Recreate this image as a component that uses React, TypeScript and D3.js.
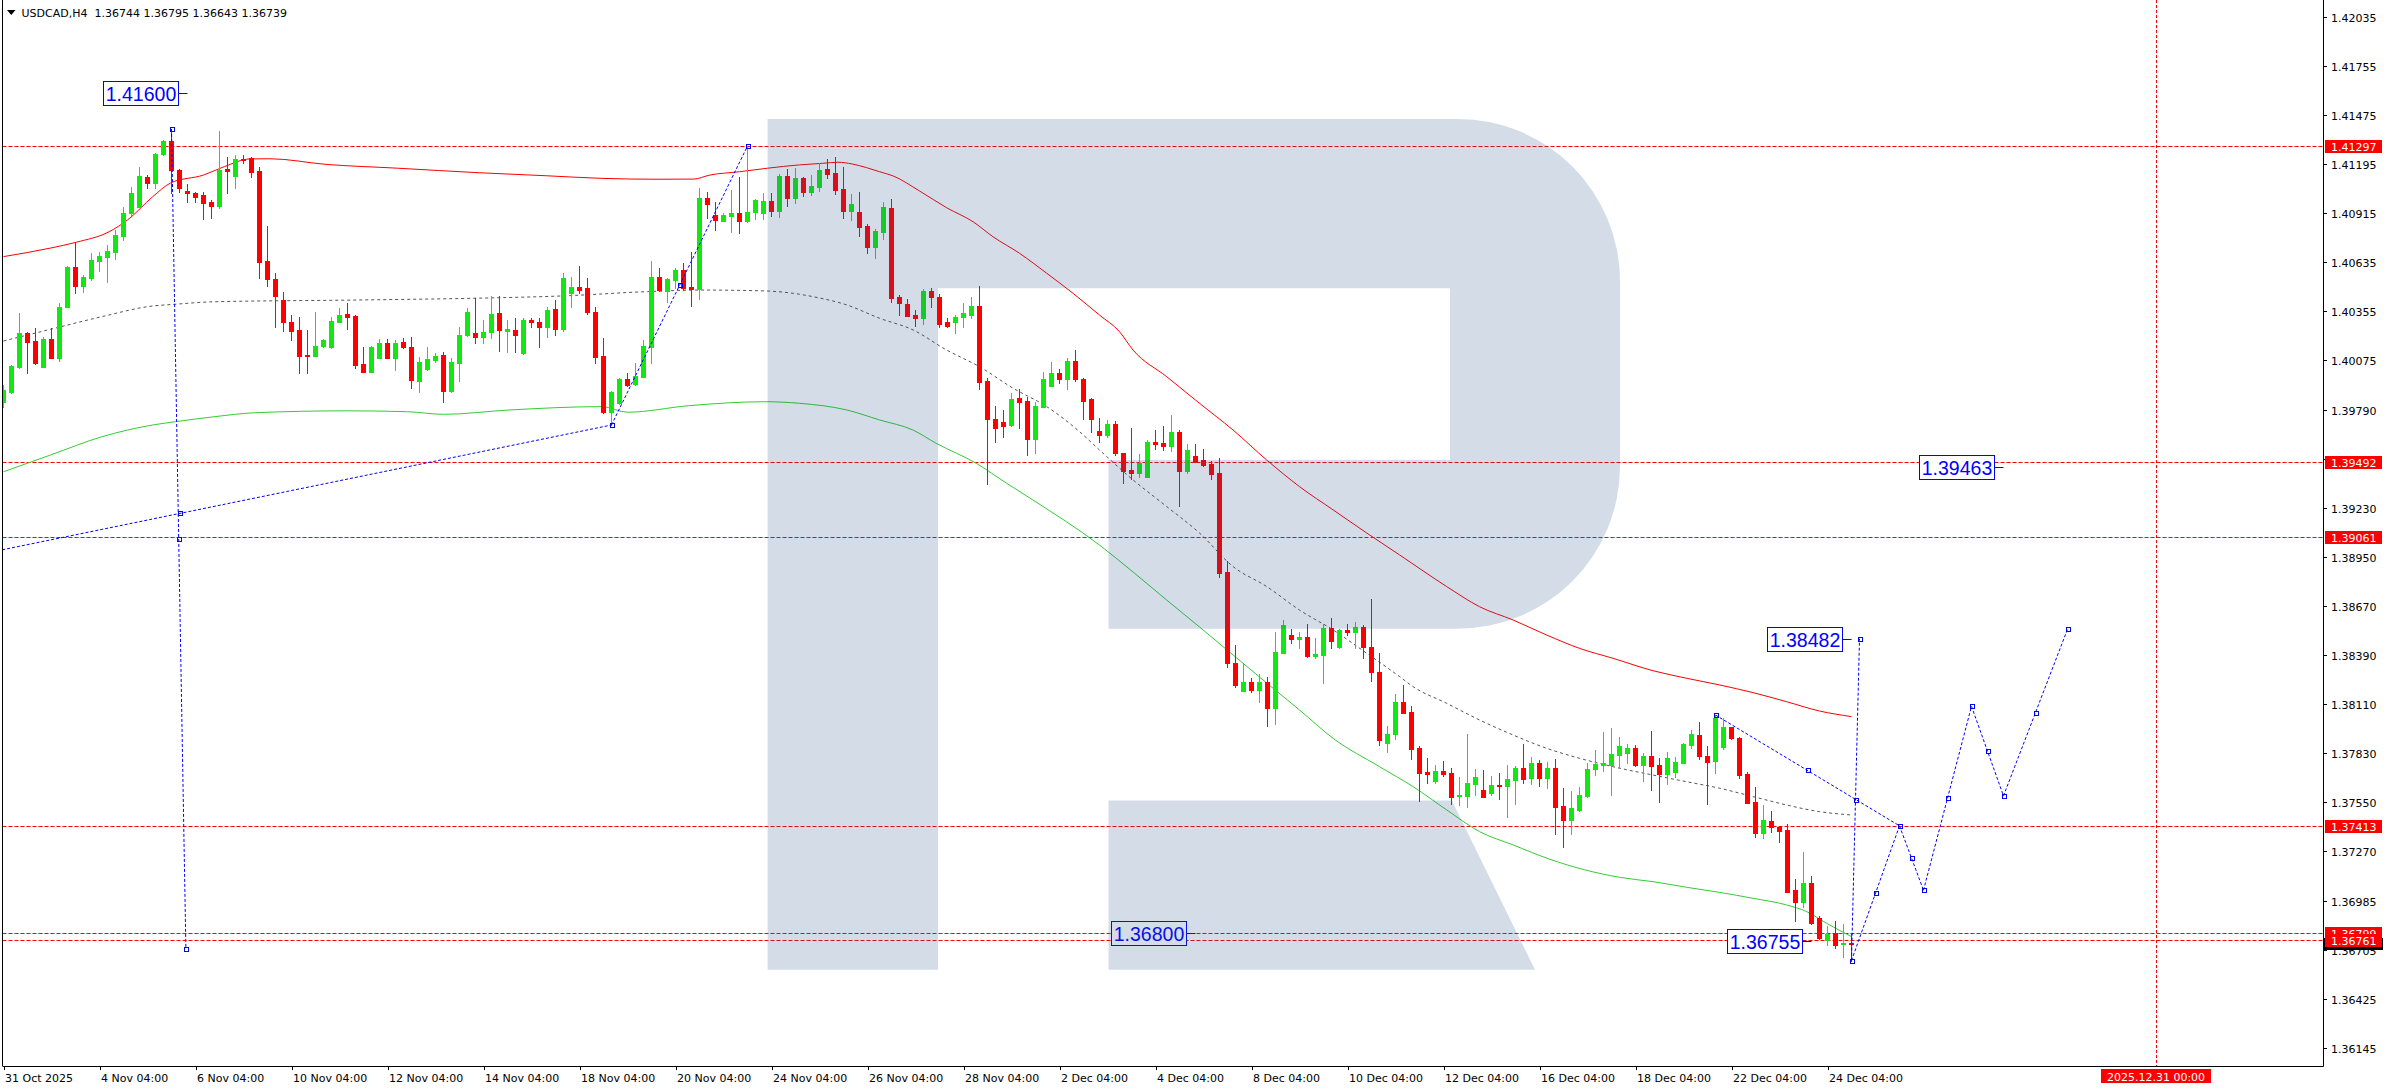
import React, { useEffect } from 'react';
import * as d3 from 'd3';

const HEADER_SYMBOL = 'USDCAD,H4';
const HEADER_OHLC = ['1.36744', '1.36795', '1.36643', '1.36739'];

const opens = [
  1.39836,1.39893,1.40036,1.40227,1.40183,1.40036,1.40193,1.40088,1.40379,1.40604,
  1.40499,1.40545,1.40640,1.40665,1.40693,1.40784,1.40912,1.40950,1.41122,1.41087,
  1.41250,1.41326,1.41160,1.41040,1.41030,1.41017,1.40979,1.40954,1.41164,1.41126,
  1.41224,1.41227,1.41154,1.40640,1.40537,1.40417,1.40290,1.40246,1.40103,1.40099,
  1.40154,1.40150,1.40293,1.40337,1.40326,1.40052,1.40008,1.40088,1.40170,1.40088,
  1.40175,1.40147,1.39956,1.40021,1.40074,1.40101,1.39897,1.40059,1.40215,1.40227,
  1.40207,1.40233,1.40341,1.40242,1.40246,1.40113,1.40303,1.40290,1.40265,1.40364,
  1.40250,1.40455,1.40490,1.40484,1.40347,1.40097,1.39776,1.39827,1.39966,1.39936,
  1.39979,1.40150,1.40547,1.40470,1.40531,1.40589,1.40490,1.40480,1.41002,1.40903,
  1.40870,1.40899,1.40912,1.40868,1.40918,1.40914,1.40983,1.40927,1.41126,1.41002,
  1.41112,1.41036,1.41064,1.41164,1.41144,1.41051,1.40927,1.40920,1.40840,1.40722,
  1.40807,1.40943,1.40434,1.40394,1.40330,1.40316,1.40469,1.40434,1.40291,1.40293,
  1.40322,1.40331,1.40383,1.39954,1.39737,1.39720,1.39701,1.39857,1.39840,1.39621,
  1.39808,1.39928,1.39998,1.39964,1.40069,1.39966,1.39852,1.39669,1.39644,1.39709,
  1.39541,1.39446,1.39431,1.39408,1.39606,1.39598,1.39583,1.39663,1.39442,1.39526,
  1.39503,1.39482,1.39429,1.38863,1.38345,1.38185,1.38235,1.38189,1.38235,1.38088,
  1.38402,1.38503,1.38479,1.38490,1.38385,1.38389,1.38542,1.38436,1.38532,1.38522,
  1.38551,1.38436,1.38294,1.37888,1.37938,1.38121,1.38063,1.37858,1.37721,1.37671,
  1.37726,1.37715,1.37582,1.37582,1.37654,1.37618,1.37599,1.37646,1.37642,1.37677,
  1.37743,1.37688,1.37772,1.37688,1.37743,1.37526,1.37446,1.37504,1.37584,1.37738,
  1.37761,1.37761,1.37818,1.37831,1.37858,1.37761,1.37812,1.37761,1.37709,1.37722,
  1.37774,1.37875,1.37932,1.37812,1.37783,1.37862,1.37976,1.37917,1.37709,1.37548,
  1.37374,1.37441,1.37408,1.37389,1.37046,1.36980,1.37085,1.36888,1.36761,1.36799,
  1.36736,1.36744,
];
const highs = [
  1.39932,1.40046,1.40341,1.40234,1.40255,1.40207,1.40259,1.40398,1.40611,1.40745,
  1.40560,1.40687,1.40693,1.40731,1.40817,1.40950,1.41064,1.41179,1.41131,1.41257,
  1.41331,1.41394,1.41166,1.41080,1.41034,1.41036,1.40988,1.41383,1.41236,1.41246,
  1.41246,1.41234,1.41179,1.40840,1.40570,1.40465,1.40331,1.40322,1.40246,1.40347,
  1.40193,1.40322,1.40370,1.40398,1.40331,1.40150,1.40154,1.40194,1.40194,1.40189,
  1.40202,1.40204,1.40093,1.40147,1.40113,1.40120,1.40084,1.40265,1.40370,1.40430,
  1.40303,1.40440,1.40440,1.40303,1.40313,1.40313,1.40313,1.40313,1.40379,1.40417,
  1.40570,1.40550,1.40611,1.40541,1.40379,1.40202,1.39897,1.39970,1.39998,1.40059,
  1.40189,1.40640,1.40598,1.40541,1.40598,1.40627,1.40693,1.41055,1.41032,1.40975,
  1.40916,1.41046,1.41118,1.41297,1.40992,1.41027,1.41027,1.41135,1.41164,1.41170,
  1.41117,1.41131,1.41198,1.41221,1.41232,1.41175,1.41023,1.41036,1.40851,1.40823,
  1.40977,1.40992,1.40446,1.40421,1.40360,1.40478,1.40484,1.40451,1.40314,1.40331,
  1.40402,1.40433,1.40497,1.39970,1.39812,1.39789,1.39884,1.39907,1.39861,1.39836,
  1.40004,1.40061,1.40023,1.40086,1.40131,1.39973,1.39859,1.39741,1.39732,1.39726,
  1.39545,1.39688,1.39537,1.39617,1.39674,1.39697,1.39760,1.39674,1.39594,1.39594,
  1.39566,1.39499,1.39516,1.38926,1.38446,1.38342,1.38256,1.38280,1.38263,1.38522,
  1.38589,1.38538,1.38522,1.38566,1.38484,1.38566,1.38602,1.38538,1.38566,1.38579,
  1.38562,1.38709,1.38402,1.37983,1.38166,1.38218,1.38098,1.37869,1.37801,1.37761,
  1.37783,1.37742,1.37692,1.37939,1.37738,1.37732,1.37698,1.37713,1.37761,1.37757,
  1.37881,1.37808,1.37789,1.37778,1.37795,1.37628,1.37612,1.37633,1.37770,1.37846,
  1.37949,1.37972,1.37919,1.37882,1.37875,1.37827,1.37957,1.37799,1.37837,1.37808,
  1.37885,1.37961,1.38008,1.37869,1.38046,1.38027,1.37979,1.37922,1.37722,1.37637,
  1.37532,1.37498,1.37412,1.37422,1.37108,1.37265,1.37126,1.36900,1.36841,1.36871,
  1.36852,1.36795,
];
const lows = [
  1.39808,1.39888,1.40027,1.39998,1.40052,1.40033,1.40083,1.40070,1.40375,1.40455,
  1.40461,1.40531,1.40585,1.40522,1.40651,1.40760,1.40903,1.40948,1.41055,1.41055,
  1.41246,1.41030,1.41036,1.40979,1.40979,1.40880,1.40884,1.40941,1.41030,1.41059,
  1.41198,1.41122,1.40541,1.40499,1.40265,1.40242,1.40189,1.39998,1.39998,1.40097,
  1.40147,1.40141,1.40291,1.40250,1.40027,1.40004,1.40004,1.40084,1.40084,1.40017,
  1.40143,1.39913,1.39890,1.40017,1.40065,1.39836,1.39893,1.39956,1.40213,1.40173,
  1.40170,1.40198,1.40128,1.40122,1.40122,1.40109,1.40265,1.40147,1.40204,1.40217,
  1.40242,1.40379,1.40455,1.40337,1.40056,1.39770,1.39703,1.39823,1.39928,1.39932,
  1.39976,1.40056,1.40470,1.40404,1.40484,1.40474,1.40385,1.40421,1.40884,1.40817,
  1.40868,1.40807,1.40802,1.40864,1.40878,1.40878,1.40897,1.40893,1.40954,1.40970,
  1.41011,1.41017,1.41042,1.41116,1.41023,1.40887,1.40874,1.40783,1.40687,1.40659,
  1.40766,1.40406,1.40331,1.40326,1.40269,1.40282,1.40379,1.40265,1.40265,1.40230,
  1.40265,1.40316,1.39907,1.39366,1.39608,1.39633,1.39699,1.39688,1.39530,1.39545,
  1.39804,1.39926,1.39945,1.39909,1.39956,1.39739,1.39665,1.39608,1.39636,1.39532,
  1.39373,1.39396,1.39404,1.39404,1.39568,1.39560,1.39556,1.39242,1.39431,1.39492,
  1.39471,1.39393,1.38836,1.38322,1.38208,1.38183,1.38179,1.38122,1.37985,1.37993,
  1.38399,1.38456,1.38427,1.38376,1.38370,1.38227,1.38427,1.38427,1.38503,1.38427,
  1.38370,1.38242,1.37875,1.37837,1.37909,1.38057,1.37795,1.37557,1.37659,1.37659,
  1.37698,1.37538,1.37532,1.37522,1.37589,1.37587,1.37587,1.37566,1.37465,1.37538,
  1.37659,1.37652,1.37641,1.37628,1.37366,1.37294,1.37366,1.37500,1.37580,1.37703,
  1.37728,1.37588,1.37742,1.37774,1.37757,1.37671,1.37618,1.37551,1.37652,1.37690,
  1.37770,1.37856,1.37795,1.37538,1.37717,1.37850,1.37909,1.37688,1.37542,1.37351,
  1.37345,1.37380,1.37322,1.37033,1.36871,1.36948,1.36852,1.36765,1.36732,1.36717,
  1.36662,1.36643,
];
const closes = [
  1.39903,1.40040,1.40227,1.40179,1.40056,1.40193,1.40088,1.40379,1.40604,1.40499,
  1.40550,1.40646,1.40669,1.40695,1.40788,1.40912,1.41027,1.41126,1.41087,1.41250,
  1.41326,1.41160,1.41059,1.41027,1.41007,1.40973,1.40954,1.41160,1.41152,1.41223,
  1.41217,1.41150,1.40636,1.40535,1.40442,1.40290,1.40242,1.40099,1.40099,1.40154,
  1.40189,1.40299,1.40331,1.40322,1.40046,1.40008,1.40150,1.40170,1.40088,1.40170,
  1.40147,1.39960,1.40065,1.40080,1.40099,1.39899,1.40065,1.40217,1.40347,1.40207,
  1.40233,1.40337,1.40246,1.40250,1.40217,1.40303,1.40290,1.40265,1.40360,1.40250,
  1.40541,1.40490,1.40474,1.40347,1.40093,1.39776,1.39890,1.39966,1.39932,1.39985,
  1.40156,1.40547,1.40474,1.40537,1.40589,1.40484,1.40480,1.41002,1.40964,1.40874,
  1.40903,1.40912,1.40870,1.40918,1.40988,1.40983,1.40927,1.41127,1.41002,1.41112,
  1.41036,1.41068,1.41160,1.41137,1.41046,1.40927,1.40966,1.40836,1.40722,1.40811,
  1.40947,1.40430,1.40402,1.40327,1.40316,1.40467,1.40433,1.40282,1.40270,1.40322,
  1.40345,1.40383,1.39950,1.39736,1.39684,1.39699,1.39850,1.39834,1.39621,1.39812,
  1.39966,1.39998,1.39964,1.40069,1.39964,1.39842,1.39739,1.39644,1.39709,1.39541,
  1.39442,1.39431,1.39484,1.39606,1.39594,1.39583,1.39663,1.39442,1.39560,1.39493,
  1.39475,1.39425,1.38859,1.38342,1.38218,1.38235,1.38189,1.38235,1.38088,1.38406,
  1.38560,1.38479,1.38490,1.38385,1.38395,1.38542,1.38471,1.38532,1.38522,1.38547,
  1.38436,1.38294,1.37903,1.37938,1.38118,1.38059,1.37852,1.37717,1.37711,1.37726,
  1.37711,1.37575,1.37588,1.37658,1.37692,1.37575,1.37646,1.37641,1.37681,1.37743,
  1.37681,1.37772,1.37688,1.37743,1.37522,1.37446,1.37515,1.37589,1.37738,1.37766,
  1.37770,1.37823,1.37869,1.37858,1.37762,1.37812,1.37757,1.37709,1.37802,1.37779,
  1.37881,1.37938,1.37812,1.37779,1.38031,1.37976,1.37913,1.37703,1.37545,1.37374,
  1.37446,1.37405,1.37385,1.37037,1.36980,1.37085,1.36856,1.36771,1.36795,1.36732,
  1.36742,1.36739,
];

// moving averages: [bar index, price]
const redMA = [
  [0,1.40665],[5.9,1.40714],[9.1,1.40747],[13.2,1.40807],[15.5,1.40874],[18.65,1.41007],[20.9,1.41086],
  [25,1.41131],[27.6,1.41179],[30.8,1.41223],[33.3,1.41224],[40.3,1.41192],[49.3,1.41170],[59.5,1.41144],
  [67.8,1.41127],[74.8,1.41112],[81.8,1.41107],[86.3,1.41108],[88.2,1.41130],[92,1.41150],[95.5,1.41170],
  [99.5,1.41189],[102.4,1.41198],[104.3,1.41204],[106.1,1.41194],[107.9,1.41173],[109.5,1.41150],
  [111.2,1.41126],[114.5,1.41040],[117.9,1.40944],[121.2,1.40864],[123.7,1.40778],[127,1.40684],
  [130.4,1.40570],[133.7,1.40455],[137,1.40331],[139.5,1.40236],[141.2,1.40131],[145.4,1.39979],
  [149.5,1.39827],[153.7,1.39674],[157.9,1.39503],[162,1.39351],[166.2,1.39218],[170.4,1.39086],
  [174.5,1.38961],[180.4,1.38780],[184.5,1.38665],[188.7,1.38589],[192.9,1.38503],[197,1.38427],
  [201.2,1.38370],[206.2,1.38299],[210.4,1.38256],[214.5,1.38218],[218.7,1.38174],[222.9,1.38122],
  [227,1.38069],[231,1.38037],
];
const grayMA = [
  [0,1.40183],[5.9,1.40250],[12.3,1.40322],[18.65,1.40383],[21.2,1.40392],[26.3,1.40407],[44.2,1.40417],
  [60.8,1.40429],[69.7,1.40440],[80.5,1.40465],[86.9,1.40474],[95.1,1.40469],[99.5,1.40450],[101.2,1.40436],
  [105.4,1.40389],[109.5,1.40313],[113.7,1.40246],[117.9,1.40131],[122,1.40036],[126.2,1.39913],
  [130.4,1.39808],[134.5,1.39665],[137,1.39560],[141.2,1.39389],[145.4,1.39237],[149.5,1.39086],
  [153.7,1.38894],[157.9,1.38780],[162,1.38646],[166.2,1.38532],[170.4,1.38399],[174.5,1.38266],
  [176.2,1.38208],[180.4,1.38113],[184.5,1.38018],[188.7,1.37932],[192.9,1.37856],[197,1.37799],
  [201.2,1.37751],[206.2,1.37703],[210.4,1.37665],[214.5,1.37628],[218.7,1.37580],[222.9,1.37532],
  [227,1.37494],[231,1.37475],
];
const greenMA = [
  [0,1.39436],[5.9,1.39532],[12.3,1.39636],[18.65,1.39703],[21.5,1.39722],[26.3,1.39750],[31.4,1.39773],
  [42.9,1.39784],[50.5,1.39779],[55,1.39764],[63.3,1.39789],[74.8,1.39808],[78,1.39776],[85.6,1.39813],
  [95.1,1.39836],[99.5,1.39827],[105.4,1.39789],[109.5,1.39732],[113.7,1.39674],[116.6,1.39598],
  [121.6,1.39484],[125.4,1.39370],[128.7,1.39274],[137,1.39017],[141.2,1.38863],[145.4,1.38703],
  [149.5,1.38549],[153.7,1.38389],[157.9,1.38229],[162,1.38075],[166.2,1.37913],[172,1.37751],
  [176.2,1.37637],[180.4,1.37504],[184.5,1.37380],[188.7,1.37304],[193.3,1.37222],[202,1.37119],
  [206.2,1.37094],[210.4,1.37062],[214.5,1.37033],[218.7,1.36999],[222.9,1.36961],[225.4,1.36923],
  [227.9,1.36856],[231,1.36780],
];

// analysis trend lines (each pair = one line object): [bar, price]
const trendLines = [
  [[-32, 1.38692], [76, 1.39703]],
  [[76, 1.39703], [93, 1.41297]],
  [[21, 1.41394], [22.8, 1.36709]],
  [[214, 1.38046], [237, 1.37413]],
  [[231, 1.36643], [232, 1.38482]],
];
const forecastPath = [[231, 1.36643], [237, 1.37413], [240, 1.37045], [246, 1.38096], [250, 1.37584], [258, 1.38536]];

const priceNotes = [
  { text: '1.41600', bar: 23, price: 1.41600 },
  { text: '1.39463', bar: 250, price: 1.39463 },
  { text: '1.38482', bar: 231, price: 1.38482 },
  { text: '1.36755', bar: 226, price: 1.36755 },
  { text: '1.36800', bar: 149, price: 1.36800 },
];

const levels = [1.41297, 1.39492, 1.39061, 1.37413, 1.36799, 1.36761];
const bidPrice = 1.36739;

const priceTicks = [1.42035, 1.41755, 1.41475, 1.41195, 1.40915, 1.40635, 1.40355, 1.40075, 1.39790, 1.39510,
  1.39230, 1.38950, 1.38670, 1.38390, 1.38110, 1.37830, 1.37550, 1.37270, 1.36985, 1.36705, 1.36425, 1.36145];

const timeLabels = ['31 Oct 2025', '4 Nov 04:00', '6 Nov 04:00', '10 Nov 04:00', '12 Nov 04:00', '14 Nov 04:00',
  '18 Nov 04:00', '20 Nov 04:00', '24 Nov 04:00', '26 Nov 04:00', '28 Nov 04:00', '2 Dec 04:00', '4 Dec 04:00',
  '8 Dec 04:00', '10 Dec 04:00', '12 Dec 04:00', '16 Dec 04:00', '18 Dec 04:00', '22 Dec 04:00', '24 Dec 04:00'];
const timeLabelBars = [0, 12, 24, 36, 48, 60, 72, 84, 96, 108, 120, 132, 144, 156, 168, 180, 192, 204, 216, 228];

const futureBar = 269;
const futureLabel = '2025.12.31 00:00';

const W = 2388, H = 1090;
const PLOT_L = 2.5, PLOT_R = 2323, PLOT_B = 1066;
const RED = '#ff0000';
const GREEN = '#13e613';
const BLUE = '#0000ff';
const AXIS_FONT = "'DejaVu Sans', Verdana, sans-serif";
const NOTE_FONT = "'Liberation Sans', Arial, sans-serif";

export default function App() {
  useEffect(() => {
    document.body.style.margin = '0';
  }, []);

  const x = d3.scaleLinear().domain([0, 1]).range([3.5, 11.5]);
  const y = d3.scaleLinear().domain([1.36145, 1.42035]).range([1047.8, 16.8]);

  const straight = d3.line<number[]>().x(d => x(d[0])).y(d => y(d[1]));
  const smooth = d3.line<number[]>().x(d => x(d[0])).y(d => y(d[1])).curve(d3.curveMonotoneX);

  const forecastSegments: number[][][] = [];
  for (let k = 0; k < forecastPath.length - 1; k++) forecastSegments.push([forecastPath[k], forecastPath[k + 1]]);
  const allLines = [...trendLines, ...forecastSegments];

  const markers: { mx: number; my: number }[] = [];
  allLines.forEach(seg => {
    const [a, b] = seg;
    const ax = x(a[0]), ay = y(a[1]), bx = x(b[0]), by = y(b[1]);
    markers.push({ mx: ax, my: ay }, { mx: bx, my: by }, { mx: (ax + bx) / 2, my: (ay + by) / 2 });
  });

  const candles = opens.map((o, i) => {
    const c = closes[i];
    const up = c >= o;
    const col = up ? GREEN : RED;
    const cx = Math.floor(x(i));
    const yT = Math.round(y(Math.max(o, c)));
    const yB = Math.round(y(Math.min(o, c)));
    const yH = Math.round(y(highs[i]));
    const yL = Math.round(y(lows[i]));
    return (
      <g key={i}>
        <rect x={cx} y={yH} width={1} height={Math.max(1, yL - yH + 1)} fill={col} />
        <rect x={cx - 2} y={yT} width={5} height={Math.max(1, yB - yT + 1)} fill={col} />
      </g>
    );
  });

  const logoMain = 'M767.6,119 H1457.6 A162.4,162.4 0 0 1 1620,281.4 V466.3 A162.4,162.4 0 0 1 1457.6,628.7 H1108.5 V460 H1450 V288.3 H938 V969.7 H767.6 Z';
  const logoLeg = 'M1108.5,800.4 H1451.8 L1535,969.7 H1108.5 Z';

  const fx = x(futureBar);

  return (
    <svg width={W} height={H} viewBox={`0 0 ${W} ${H}`} style={{ position: 'absolute', left: 0, top: 0, background: '#fff', display: 'block' }}>
      <defs>
        <clipPath id="plot">
          <rect x={PLOT_L + 0.5} y={0} width={PLOT_R - PLOT_L - 0.5} height={PLOT_B} />
        </clipPath>
      </defs>
      <rect x={0} y={0} width={W} height={H} fill="#fff" />

      <g clipPath="url(#plot)">
        {/* level lines */}
        {levels.map((p, k) => (
          <line key={k} x1={PLOT_L} x2={PLOT_R} y1={Math.round(y(p)) + 0.5} y2={Math.round(y(p)) + 0.5}
            stroke={RED} strokeWidth={1} strokeDasharray="4,2" />
        ))}
        {/* future vertical line */}
        <line x1={Math.round(fx) + 0.5} x2={Math.round(fx) + 0.5} y1={0} y2={PLOT_B} stroke={RED} strokeDasharray="3,2" />

        {/* moving averages */}
        <path d={smooth(greenMA) || ''} fill="none" stroke="#32cd32" strokeWidth={1} />
        <path d={smooth(grayMA) || ''} fill="none" stroke="#555" strokeWidth={1} strokeDasharray="3,3" />
        <path d={smooth(redMA) || ''} fill="none" stroke={RED} strokeWidth={1} />

        {/* candles */}
        <g shapeRendering="crispEdges">{candles}</g>

        {/* trend lines */}
        {allLines.map((seg, k) => (
          <path key={k} d={straight(seg) || ''} fill="none" stroke={BLUE} strokeWidth={1} strokeDasharray="3,2" />
        ))}
        {markers.map((m, k) => (
          <rect key={k} x={Math.round(m.mx) - 2 + 0.5} y={Math.round(m.my) - 2 + 0.5} width={4} height={4}
            fill="none" stroke={BLUE} strokeWidth={1} />
        ))}

        {/* price notes */}
        {priceNotes.map((n, k) => {
          const ax = x(n.bar);
          const yc = Math.round(y(n.price)) + 0.5;
          const bw = 75, bh = 24;
          const bx = Math.round(ax - 10 - bw) + 0.5;
          return (
            <g key={k}>
              <line x1={bx + bw} x2={ax} y1={yc} y2={yc} stroke={BLUE} strokeWidth={1} />
              <rect x={bx} y={yc - 12} width={bw} height={bh} fill="#fff" stroke={BLUE} strokeWidth={1} />
              <text x={bx + bw / 2} y={yc + 7} textAnchor="middle" fontFamily={NOTE_FONT} fontSize={19.5} fill={BLUE}>{n.text}</text>
            </g>
          );
        })}

        {/* watermark logo */}
        <path d={logoMain} fill="rgba(40,80,140,0.2)" />
        <path d={logoLeg} fill="rgba(40,80,140,0.2)" />
      </g>

      {/* frame / axes */}
      <line x1={PLOT_L} x2={PLOT_L} y1={0} y2={PLOT_B} stroke="#000" strokeWidth={1} />
      <line x1={PLOT_R + 0.5} x2={PLOT_R + 0.5} y1={0} y2={PLOT_B + 0.5} stroke="#000" strokeWidth={1} />
      <line x1={PLOT_L} x2={PLOT_R + 0.5} y1={PLOT_B + 0.5} y2={PLOT_B + 0.5} stroke="#000" strokeWidth={1} />

      {/* price axis */}
      <g fontFamily={AXIS_FONT} fontSize={11} fill="#000">
        {priceTicks.map((p, k) => {
          const yy = Math.round(y(p)) + 0.5;
          return (
            <g key={k}>
              <line x1={PLOT_R + 1} x2={PLOT_R + 4} y1={yy} y2={yy} stroke="#000" />
              <text x={2331} y={yy + 4}>{p.toFixed(5)}</text>
            </g>
          );
        })}
      </g>
      {/* bid label */}
      <rect x={PLOT_R + 1} y={Math.round(y(bidPrice)) - 6} width={59} height={12} fill="#000" />
      {levels.map((p, k) => {
        const yy = Math.round(y(p));
        return (
          <g key={k}>
            <rect x={PLOT_R + 2} y={yy - 6} width={57} height={13} fill={RED} />
            <text x={2331} y={yy + 4.5} fontFamily={AXIS_FONT} fontSize={11} fill="#fff">{p.toFixed(5)}</text>
          </g>
        );
      })}

      {/* time axis */}
      <g fontFamily={AXIS_FONT} fontSize={11} fill="#000">
        {timeLabels.map((t, k) => {
          const tx = Math.round(x(timeLabelBars[k])) + 0.5;
          return (
            <g key={k}>
              <line x1={tx} x2={tx} y1={PLOT_B} y2={PLOT_B + 4} stroke="#000" />
              <text x={tx + 0.5} y={1081.5}>{t}</text>
            </g>
          );
        })}
      </g>
      <rect x={Math.round(fx) - 55} y={1069} width={110} height={14} fill={RED} />
      <text x={Math.round(fx)} y={1080.5} textAnchor="middle" fontFamily={AXIS_FONT} fontSize={11} fill="#fff">{futureLabel}</text>

      {/* header */}
      <polygon points="7,10 15.5,10 11.25,15" fill="#000" />
      <text x={21.5} y={16.5} fontFamily={AXIS_FONT} fontSize={11} fill="#000" style={{ whiteSpace: 'pre' }}>
        {`${HEADER_SYMBOL}  ${HEADER_OHLC.join(' ')}`}
      </text>
    </svg>
  );
}
